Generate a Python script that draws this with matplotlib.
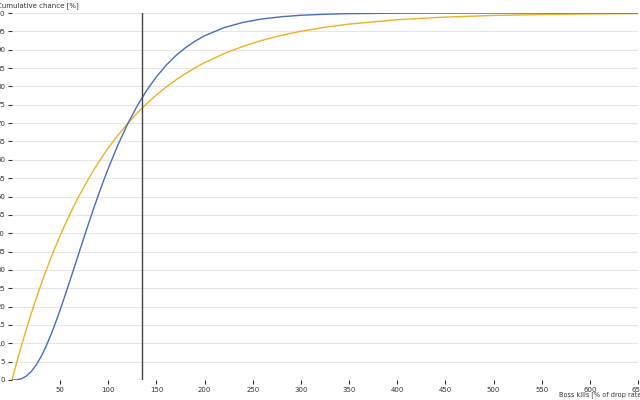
import matplotlib
matplotlib.use("Agg")
import matplotlib.pyplot as plt

# Boss kills (% of drop rate)
kills = [0, 5, 10, 15, 20, 25, 30, 35, 40, 45, 50, 55, 60, 65, 70, 75, 80, 85, 90, 95,
         100, 110, 120, 130, 140, 150, 160, 170, 180, 190, 200, 220, 240, 260, 280,
         300, 325, 350, 400, 450, 500, 550, 600, 650]

# Blue series (S-shaped cumulative chance, %)
blue = [0.0, 0.05, 0.36, 1.09, 2.31, 4.04, 6.28, 8.98, 12.05, 15.47, 19.11, 22.98,
        26.94, 30.97, 35.03, 39.07, 43.03, 46.90, 50.63, 54.24, 57.68, 64.06, 69.73,
        74.69, 78.98, 82.64, 85.75, 88.35, 90.52, 92.32, 93.80, 96.00, 97.45, 98.39,
        98.99, 99.38, 99.66, 99.82, 99.95, 99.99, 100.0, 100.0, 100.0, 100.0]

# Yellow series (cumulative chance, %)
yellow = [0.0, 4.88, 9.52, 13.93, 18.13, 22.12, 25.92, 29.53, 32.97, 36.24, 39.35,
          42.31, 45.12, 47.80, 50.34, 52.76, 55.07, 57.26, 59.34, 61.33, 63.21, 66.71,
          69.88, 72.75, 75.34, 77.69, 79.81, 81.73, 83.47, 85.04, 86.47, 88.92, 90.93,
          92.57, 93.92, 95.02, 96.12, 96.98, 98.17, 98.89, 99.33, 99.59, 99.75, 99.85]

marker_x = 135
x_ticks = [50, 100, 150, 200, 250, 300, 350, 400, 450, 500, 550, 600, 650]
y_ticks = list(range(0, 101, 5))

plt.rcParams['font.family'] = ['DejaVu Sans']
fig = plt.figure(figsize=(6.4, 4.0), dpi=100)
ax = fig.add_axes([12 / 640, 20 / 400, 626 / 640, 367 / 400])

ax.plot(kills, yellow, color='#e8b324', lw=1.0, zorder=3)
ax.plot(kills, blue, color='#4a6cbc', lw=1.0, zorder=4)
ax.axvline(marker_x, color='#444444', lw=1.0, zorder=5)

ax.set_xlim(0, 650)
ax.set_ylim(0, 100)
ax.set_xticks(x_ticks)
ax.set_yticks(y_ticks)
ax.set_xticklabels([str(v) for v in x_ticks])
ax.set_yticklabels([str(v) for v in y_ticks])
ax.grid(axis='y', color='#e6e6e6', lw=0.8, zorder=0)
for s in ax.spines.values():
    s.set_visible(False)
ax.tick_params(axis='both', labelsize=5, colors='#333333', direction='out')
ax.tick_params(axis='y', length=3, pad=2, width=0.8)
ax.tick_params(axis='x', length=3, pad=2, width=0.8)

fig.text(-3 / 640, 1 - 6 / 400, 'Cumulative chance [%]', fontsize=5,
         color='#333333', ha='left', va='center')
fig.text(559 / 640, 1 - 395 / 400, 'Boss kills [% of drop rate]', fontsize=4.7,
         color='#333333', ha='left', va='center')

fig.savefig('out.png', dpi=100)
